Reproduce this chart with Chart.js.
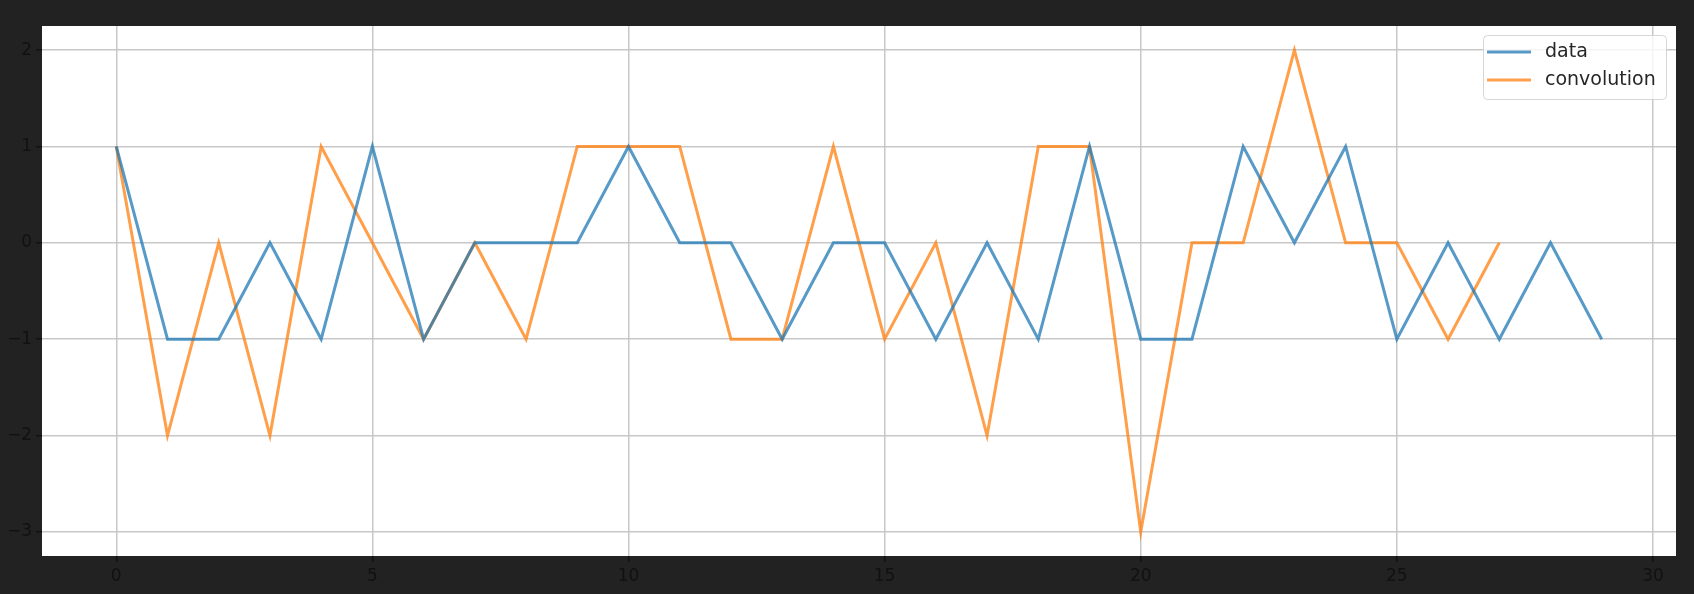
<!DOCTYPE html>
<html>
<head>
<meta charset="utf-8">
<script src="https://cdn.jsdelivr.net/npm/chart.js@4/dist/chart.umd.min.js"></script>
<style>
  html, body { margin:0; padding:0; background:#222222; }
  #wrap { width:1694px; height:594px; }
</style>
</head>
<body>
<div id="wrap"><canvas id="c" width="1694" height="594"></canvas></div>
<script>
// series
const dataX = [0,1,2,3,4,5,6,7,8,9,10,11,12,13,14,15,16,17,18,19,20,21,22,23,24,25,26,27,28,29];
const dataY = [1,-1,-1,0,-1,1,-1,0,0,0,1,0,0,-1,0,0,-1,0,-1,1,-1,-1,1,0,1,-1,0,-1,0,-1];
const convX = [0,1,2,3,4,5,6,7,8,9,10,11,12,13,14,15,16,17,18,19,20,21,22,23,24,25,26,27];
const convY = [1,-2,0,-2,1,0,-1,0,-1,1,1,1,-1,-1,1,-1,0,-2,1,1,-3,0,0,2,0,0,-1,0];
const xTicks = [0,5,10,15,20,25,30];
const yTicks = [-3,-2,-1,0,1,2];

const BLUE = 'rgba(31,119,180,0.75)';
const ORANGE = 'rgba(255,127,14,0.75)';
const FONT = "'DejaVu Sans', sans-serif";

const pts = (xs, ys) => xs.map((x, i) => ({ x, y: ys[i] }));
const minus = v => (v < 0 ? '\u2212' + Math.abs(v) : String(v));

// dark page, white axes box
const bgPlugin = {
  id:'bg',
  beforeDraw(chart) {
    const { ctx, chartArea:a } = chart;
    ctx.save();
    ctx.fillStyle = '#222222';
    ctx.fillRect(0, 0, chart.width, chart.height);
    ctx.fillStyle = '#ffffff';
    ctx.fillRect(a.left, a.top, a.right - a.left, a.bottom - a.top);
    ctx.restore();
  }
};

// matplotlib-style legend box in upper right
const legendPlugin = {
  id:'mplLegend',
  afterDraw(chart) {
    const { ctx, chartArea:a } = chart;
    const w = 183, h = 64, x = a.right - 10 - w, y = a.top + 9;
    ctx.save();
    ctx.fillStyle = 'rgba(255,255,255,0.8)';
    ctx.strokeStyle = 'rgba(204,204,204,0.8)';
    ctx.lineWidth = 1;
    ctx.beginPath();
    ctx.roundRect(x + 0.5, y + 0.5, w, h, 4);
    ctx.fill(); ctx.stroke();
    ctx.font = '19px ' + FONT;
    ctx.textBaseline = 'middle';
    chart.data.datasets.forEach((ds, i) => {
      const ry = y + 17 + i * 28;
      ctx.strokeStyle = ds.borderColor;
      ctx.lineWidth = 3;
      ctx.beginPath(); ctx.moveTo(x + 4, ry); ctx.lineTo(x + 48, ry); ctx.stroke();
      ctx.fillStyle = '#262626';
      ctx.fillText(ds.label, x + 62, ry);
    });
    ctx.restore();
  }
};

new Chart(document.getElementById('c'), {
  type:'line',
  data:{ datasets:[
    { label:'data', data:pts(dataX, dataY), borderColor:BLUE, borderWidth:3, pointRadius:0, tension:0, fill:false },
    { label:'convolution', data:pts(convX, convY), borderColor:ORANGE, borderWidth:3, pointRadius:0, tension:0, fill:false }
  ] },
  options:{
    responsive:false, animation:false, devicePixelRatio:1,
    layout:{ padding:{ top:26, right:18, left:0, bottom:0 } },
    plugins:{ legend:{ display:false }, tooltip:{ enabled:false } },
    scales:{
      x:{ type:'linear', min:-1.45, max:30.45,
        afterBuildTicks: s => { s.ticks = xTicks.map(v => ({ value:v })); },
        afterFit: s => { s.height = 38; },
        grid:{ color:'#c8c8c8', lineWidth:1.5, tickLength:6, tickColor:'#111111', drawTicks:true },
        border:{ display:false },
        ticks:{ color:'#111111', font:{ family:FONT, size:17 }, padding:4, maxRotation:0, callback: v => minus(v) } },
      y:{ type:'linear', min:-3.25, max:2.25,
        afterBuildTicks: s => { s.ticks = yTicks.map(v => ({ value:v })); },
        afterFit: s => { s.width = 42; },
        grid:{ color:'#c8c8c8', lineWidth:1.5, tickLength:6, tickColor:'#111111', drawTicks:true },
        border:{ display:false },
        ticks:{ color:'#111111', font:{ family:FONT, size:17 }, padding:4, callback: v => minus(v) } }
    }
  },
  plugins:[bgPlugin, legendPlugin]
});
</script>
</body>
</html>
